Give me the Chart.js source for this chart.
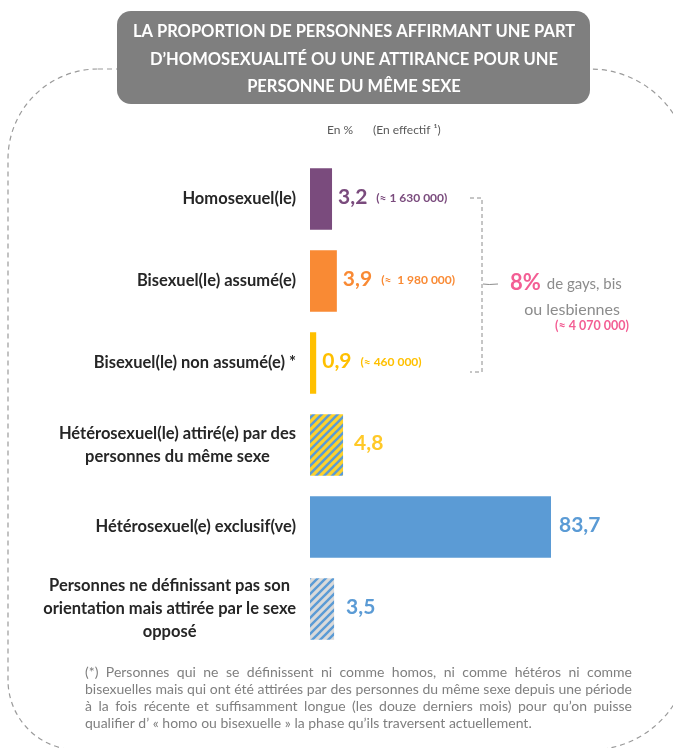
<!DOCTYPE html>
<html lang="fr">
<head>
<meta charset="UTF-8">
<title>Proportion de personnes affirmant une part d'homosexualité</title>
<script src="https://cdn.jsdelivr.net/npm/chart.js"></script>
<style>
  body { margin: 0; background: #fff; }
  canvas { display: block; }
</style>
</head>
<body>
<canvas id="chart" width="673" height="748"></canvas>
<script>
// données
const categories = [
  ['Homosexuel(le)'],
  ['Bisexuel(le) assumé(e)'],
  ['Bisexuel(le) non assumé(e) *'],
  ['Hétérosexuel(le) attiré(e) par des', 'personnes du même sexe'],
  ['Hétérosexuel(e) exclusif(ve)'],
  ['Personnes ne définissant pas son', 'orientation mais attirée par le sexe', 'opposé']
];
const values = [3.2, 3.9, 0.9, 4.8, 83.7, 3.5];
const effectifs = ['(≈ 1 630 000)', '(≈  1 980 000)', '(≈ 460 000)', '', '', ''];

const titleLines = [
  'LA PROPORTION DE PERSONNES AFFIRMANT UNE PART',
  'D’HOMOSEXUALITÉ OU UNE ATTIRANCE POUR UNE',
  'PERSONNE DU MÊME SEXE'
];
const unitLabels = ['En %', '(En effectif ¹)'];
const totalShare = '8%';
const totalText = ['de gays, bis', 'ou lesbiennes'];
const totalEffectif = '(≈ 4 070 000)';
const footnote = [
  '(*) Personnes qui ne se définissent ni comme homos, ni comme hétéros ni comme',
  'bisexuelles mais qui ont été attirées par des personnes du même sexe depuis une période',
  'à la fois récente et suffisamment longue (les douze derniers mois) pour qu’on puisse',
  'qualifier d’ « homo ou bisexuelle » la phase qu’ils traversent actuellement.'
];

// styles
const FONT = 'Lato, "Open Sans", sans-serif';
const purple = '#7a4b7d', orange = '#f98a34', yellow = '#ffc000', blue = '#5b9bd5', pink = '#f35e94';
const valueColors = [purple, orange, yellow, '#ffc928', blue, blue];
const valueOffsets = [6, 6, 6, 11, 8, 12];

function stripes(bg, fg, w) {
  const c = document.createElement('canvas');
  c.width = 8; c.height = 8;
  const g = c.getContext('2d');
  g.fillStyle = bg;
  g.fillRect(0, 0, 8, 8);
  g.strokeStyle = fg;
  g.lineWidth = w;
  g.beginPath();
  g.moveTo(-4, 4); g.lineTo(4, -4);
  g.moveTo(0, 8); g.lineTo(8, 0);
  g.moveTo(4, 12); g.lineTo(12, 4);
  g.stroke();
  return g.createPattern(c, 'repeat');
}

const ctx0 = document.getElementById('chart').getContext('2d');
const barColors = [purple, orange, yellow, stripes('#ffd22a', blue, 2.6), blue, stripes('#dadada', blue, 2.4)];

function justify(ctx, text, x, y, width) {
  const words = text.split(' ');
  const total = words.reduce((s, w) => s + ctx.measureText(w).width, 0);
  const gap = (width - total) / (words.length - 1);
  let cx = x;
  words.forEach(w => {
    ctx.fillText(w, cx, y);
    cx += ctx.measureText(w).width + gap;
  });
}

const decor = {
  id: 'decor',
  beforeDraw(chart) {
    const ctx = chart.ctx;
    ctx.save();
    // cadre pointillé
    ctx.setLineDash([5, 4]);
    ctx.strokeStyle = '#9b9b9b';
    ctx.lineWidth = 1.2;
    ctx.beginPath();
    ctx.roundRect(8, 69, 682, 681, [90, 100, 100, 70]);
    ctx.stroke();
    ctx.setLineDash([]);

    // bandeau de titre
    ctx.fillStyle = '#7f7f7f';
    ctx.beginPath();
    ctx.roundRect(117, 11, 473, 93, 14);
    ctx.fill();
    ctx.fillStyle = '#ffffff';
    ctx.font = 'bold 16.5px ' + FONT;
    ctx.textAlign = 'center';
    ctx.textBaseline = 'middle';
    titleLines.forEach((t, i) => ctx.fillText(t, 354, 32 + i * 27.5));

    // unités
    ctx.fillStyle = '#595959';
    ctx.font = '12px ' + FONT;
    ctx.textAlign = 'left';
    ctx.fillText(unitLabels[0], 327, 130);
    ctx.fillText(unitLabels[1], 373, 130);

    // libellés des catégories
    const y = chart.scales.y;
    ctx.fillStyle = '#262626';
    ctx.font = 'bold 16.5px ' + FONT;
    ctx.textAlign = 'center';
    categories.forEach((lines, i) => {
      const cy = y.getPixelForTick(i);
      const w = Math.max(...lines.map(l => ctx.measureText(l).width));
      const cx = 296 - w / 2;
      lines.forEach((l, k) => ctx.fillText(l, cx, cy + (k - (lines.length - 1) / 2) * 23));
    });

    // note de bas de page
    ctx.fillStyle = '#7f7f7f';
    ctx.font = '14px ' + FONT;
    ctx.textAlign = 'left';
    footnote.forEach((t, i) => {
      const ly = 672 + i * 17;
      if (i < footnote.length - 1) justify(ctx, t, 85, ly, 547);
      else ctx.fillText(t, 85, ly);
    });
    ctx.restore();
  },
  afterDatasetsDraw(chart) {
    const ctx = chart.ctx;
    const area = chart.chartArea;
    const bars = chart.getDatasetMeta(0).data;
    ctx.save();
    ctx.textBaseline = 'middle';
    ctx.textAlign = 'left';
    bars.forEach((bar, i) => {
      const x = Math.min(bar.x, area.right) + valueOffsets[i];
      const txt = values[i].toFixed(1).replace('.', ',');
      ctx.fillStyle = valueColors[i];
      ctx.font = 'bold 21px ' + FONT;
      ctx.fillText(txt, x, bar.y - 2);
      const w = ctx.measureText(txt).width;
      if (effectifs[i]) {
        ctx.font = 'bold 12px ' + FONT;
        ctx.fillText(effectifs[i], x + w + 9, bar.y - 1);
      }
    });

    // accolade du total
    const y0 = bars[0].y - 1, y2 = bars[2].y + 9;
    const ym = bars[1].y + 3;
    ctx.strokeStyle = '#8c8c8c';
    ctx.lineWidth = 1;
    ctx.setLineDash([4, 3]);
    ctx.beginPath();
    ctx.moveTo(470, y0); ctx.lineTo(482, y0); ctx.lineTo(482, y2); ctx.lineTo(470, y2);
    ctx.stroke();
    ctx.setLineDash([]);
    ctx.beginPath();
    ctx.moveTo(483, ym); ctx.quadraticCurveTo(488, ym + 1, 498, ym);
    ctx.stroke();

    ctx.fillStyle = pink;
    ctx.font = 'bold 22px ' + FONT;
    ctx.fillText(totalShare, 510, ym - 1);
    const sw = ctx.measureText(totalShare).width;
    ctx.fillStyle = '#8c8c8c';
    ctx.font = '15px ' + FONT;
    ctx.fillText(totalText[0], 510 + sw + 6, ym);
    ctx.textAlign = 'center';
    ctx.font = '16px ' + FONT;
    ctx.fillText(totalText[1], 572, ym + 26);
    ctx.fillStyle = pink;
    ctx.font = 'bold 12.5px ' + FONT;
    ctx.fillText(totalEffectif, 592, ym + 42);
    ctx.restore();
  }
};

new Chart(ctx0, {
  type: 'bar',
  data: {
    labels: categories,
    datasets: [{
      data: values,
      backgroundColor: barColors,
      borderWidth: 0,
      barPercentage: 0.75,
      categoryPercentage: 1,
      clip: 0
    }]
  },
  options: {
    indexAxis: 'y',
    responsive: false,
    animation: false,
    layout: { padding: { left: 310, right: 122, top: 158, bottom: 98 } },
    scales: {
      x: { display: false, min: 0, max: 35 },
      y: { display: false }
    },
    plugins: { legend: { display: false }, tooltip: { enabled: false } }
  },
  plugins: [decor]
});
</script>
</body>
</html>
